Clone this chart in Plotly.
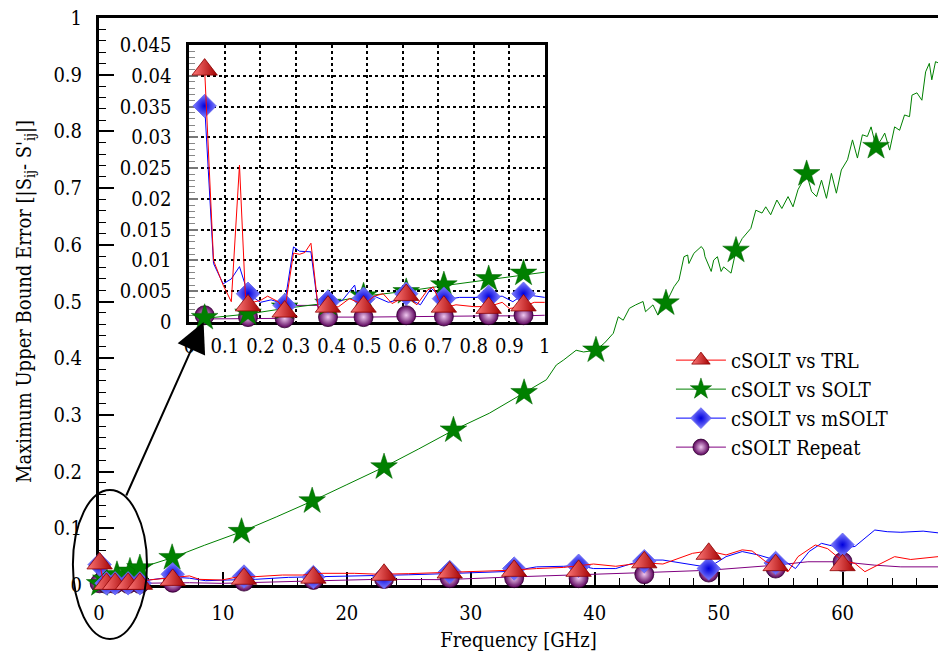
import plotly.graph_objects as go

# ---------------- broadband sweep (GHz) ----------------
trl_f = [0.05, 0.3, 0.6, 1.5, 3.0, 4.1, 4.8, 5.9, 7.3, 8.1, 9.9, 11.3, 12.6, 14.8, 16.4, 18.0,
         20.6, 22.5, 25.0, 27.9, 30.5, 33.2, 35.3, 37.5, 39.9, 41.7, 43.9, 45.5, 47.9, 49.2,
         50.6, 51.9, 52.7, 53.8, 54.6, 55.6, 56.4, 57.8, 58.8, 59.9, 61.0, 61.8, 63.1, 64.2,
         65.5, 67.7]
trl_e = [0.040, 0.010, 0.004, 0.004, 0.005, 0.009, 0.011, 0.013, 0.016, 0.010, 0.0088, 0.0147,
         0.0147, 0.0176, 0.0176, 0.0206, 0.0206, 0.019, 0.020, 0.0218, 0.024, 0.026, 0.029,
         0.031, 0.037, 0.033, 0.0393, 0.037, 0.0559, 0.060, 0.053, 0.062, 0.060, 0.0411, 0.035,
         0.0235, 0.050, 0.0706, 0.064, 0.044, 0.038, 0.0235, 0.038, 0.050, 0.045, 0.050]

msolt_f = [0.05, 0.3, 0.6, 1.5, 3.0, 4.1, 5.0, 5.9, 7.3, 8.6, 10.4, 12.6, 15.3, 18.0, 22.5,
           25.0, 28.0, 33.2, 35.3, 37.5, 38.6, 39.9, 41.7, 43.9, 45.5, 47.9, 49.2, 50.6, 51.9,
           53.2, 54.6, 55.4, 56.2, 57.3, 58.3, 59.9, 61.0, 62.6, 63.6, 64.7, 66.5, 67.7]
msolt_e = [0.036, 0.010, 0.004, 0.005, 0.006, 0.009, 0.012, 0.014, 0.012, 0.0076, 0.0088, 0.010,
           0.0135, 0.0147, 0.016, 0.018, 0.020, 0.024, 0.032, 0.033, 0.035, 0.029, 0.029, 0.044,
           0.044, 0.035, 0.031, 0.050, 0.059, 0.053, 0.044, 0.041, 0.029, 0.059, 0.0735, 0.065,
           0.068, 0.097, 0.094, 0.093, 0.095, 0.092]

solt_f = [0.05, 0.55, 1.45, 2.5, 3.3, 5.9, 8.5, 11.5, 14.3, 17.2, 20.0, 23.0, 25.8, 28.6, 31.5,
          33.0, 34.3, 35.2, 36.1, 36.9, 37.5, 38.5, 39.1, 40.1, 40.8, 41.5, 41.9, 42.3, 42.8,
          43.3, 43.9, 44.1, 44.7, 45.1, 45.75, 46.4, 46.8, 47.2, 47.5, 47.6, 48.0, 48.6, 48.8,
          48.9, 49.4, 49.6, 49.9, 50.2, 50.4, 51.0, 51.4, 51.9, 52.6, 53.0, 53.5, 53.8, 54.2,
          54.7, 55.1, 55.6, 56.0, 56.4, 57.1, 57.5, 57.9, 58.3, 58.7, 59.1, 59.5, 59.9, 60.4,
          60.8, 61.2, 61.6, 62.0, 62.3, 62.7, 63.1, 63.4, 63.8, 64.2, 64.6, 65.0, 65.4, 65.6,
          66.0, 66.4, 66.7, 67.0, 67.2, 67.5, 67.7]
solt_e = [0.002, 0.010, 0.018, 0.024, 0.030, 0.048, 0.070, 0.094, 0.120, 0.148, 0.177, 0.208,
          0.240, 0.273, 0.303, 0.322, 0.339, 0.350, 0.362, 0.388, 0.397, 0.414, 0.411, 0.414,
          0.427, 0.444, 0.473, 0.467, 0.488, 0.494, 0.500, 0.482, 0.494, 0.476, 0.497, 0.526,
          0.538, 0.579, 0.582, 0.567, 0.585, 0.597, 0.591, 0.579, 0.553, 0.573, 0.579, 0.553,
          0.561, 0.550, 0.590, 0.611, 0.629, 0.661, 0.656, 0.667, 0.653, 0.679, 0.664, 0.685,
          0.667, 0.697, 0.725, 0.694, 0.685, 0.714, 0.682, 0.726, 0.691, 0.732, 0.750, 0.785,
          0.753, 0.794, 0.791, 0.808, 0.773, 0.785, 0.797, 0.767, 0.808, 0.802, 0.829, 0.826,
          0.864, 0.868, 0.855, 0.905, 0.920, 0.891, 0.923, 0.921]

repeat_f = [0.05, 1.0, 3.0, 5.0, 7.3, 9.9, 12.6, 18.0, 22.5, 27.9, 33.2, 38.6, 43.9, 49.2, 54.6,
            57.2, 59.9, 62.6, 64.7, 67.7]
repeat_e = [0.003, 0.002, 0.003, 0.004, 0.004, 0.0029, 0.0041, 0.0076, 0.010, 0.0094, 0.0141,
            0.0176, 0.0218, 0.026, 0.035, 0.041, 0.041, 0.035, 0.032, 0.032]

# marker samples on the broadband sweep
mark_f = [0.05, 0.6, 1.3, 2.35, 3.3, 5.95, 11.7, 17.3, 23.0, 28.3, 33.5, 38.7, 44.0, 49.2, 54.6, 60.0]
trl_mark_e = [0.038, 0.002, 0.002, 0.002, 0.002, 0.009, 0.011, 0.013, 0.018, 0.022, 0.025, 0.025,
              0.040, 0.055, 0.035, 0.035]
msolt_mark_e = [0.036, 0.003, 0.003, 0.003, 0.003, 0.019, 0.015, 0.014, 0.014, 0.023, 0.029, 0.034,
                0.042, 0.029, 0.039, 0.071]
repeat_mark_e = [0.003, 0.002, 0.002, 0.002, 0.002, 0.004, 0.006, 0.009, 0.0106, 0.012, 0.012,
                 0.012, 0.019, 0.022, 0.029, 0.041]
solt_mark_f = [0.05, 0.55, 1.45, 2.5, 3.3, 5.9, 11.5, 17.2, 23.0, 28.6, 34.3, 40.1, 45.75, 51.4,
               57.1, 62.7]
solt_mark_e = [0.002, 0.010, 0.018, 0.024, 0.030, 0.048, 0.094, 0.148, 0.208, 0.273, 0.339, 0.414,
               0.497, 0.590, 0.725, 0.773]

# ---------------- low-frequency detail (GHz) ----------------
lf_trl_f = [0.043, 0.068, 0.095, 0.118, 0.141, 0.158, 0.17, 0.2, 0.22, 0.25, 0.268, 0.293, 0.31,
            0.325, 0.342, 0.363, 0.39, 0.42, 0.45, 0.49, 0.52, 0.545, 0.57, 0.61, 0.64, 0.67,
            0.686, 0.7, 0.716, 0.75, 0.8, 0.842, 0.88, 0.9, 0.94, 0.97, 1.0]
lf_trl_e = [0.041, 0.010, 0.006, 0.0033, 0.0255, 0.0038, 0.0031, 0.0035, 0.0042, 0.0033, 0.0018,
            0.0112, 0.011, 0.0113, 0.0128, 0.002, 0.0022, 0.0025, 0.0038, 0.0028, 0.0042, 0.0046,
            0.003, 0.0042, 0.0028, 0.0052, 0.0057, 0.0038, 0.0023, 0.0028, 0.0025, 0.0025, 0.0032,
            0.0022, 0.0025, 0.0032, 0.0032]
lf_msolt_f = [0.043, 0.068, 0.095, 0.118, 0.141, 0.165, 0.2, 0.23, 0.268, 0.293, 0.31, 0.342,
              0.363, 0.39, 0.43, 0.465, 0.475, 0.49, 0.52, 0.56, 0.61, 0.65, 0.68, 0.716, 0.76,
              0.842, 0.88, 0.91, 0.94, 1.0]
lf_msolt_e = [0.0352, 0.0095, 0.0062, 0.007, 0.009, 0.0046, 0.0032, 0.0036, 0.0029, 0.0122, 0.0115,
              0.0114, 0.002, 0.0028, 0.0035, 0.006, 0.0032, 0.0035, 0.0042, 0.0032, 0.004, 0.0028,
              0.0055, 0.0036, 0.004, 0.004, 0.0042, 0.0033, 0.0045, 0.004]
lf_solt_f = [0.043, 0.1, 0.165, 0.268, 0.39, 0.49, 0.61, 0.716, 0.842, 0.94, 1.0]
lf_solt_e = [0.0006, 0.0009, 0.0013, 0.0022, 0.0031, 0.0042, 0.005, 0.0059, 0.0069, 0.0077, 0.0081]
lf_repeat_f = [0.043, 0.1, 0.165, 0.268, 0.28, 0.3, 0.36, 0.38, 0.49, 0.61, 0.716, 0.842, 0.94, 1.0]
lf_repeat_e = [0.0005, 0.0005, 0.0006, 0.0006, 0.0025, 0.0027, 0.0027, 0.0008, 0.0008, 0.0009,
               0.0009, 0.001, 0.001, 0.0011]

lf_mark_f = [0.043, 0.165, 0.268, 0.39, 0.49, 0.61, 0.716, 0.842, 0.94]
lf_trl_mark_e = [0.041, 0.0027, 0.0017, 0.0025, 0.0025, 0.0044, 0.0025, 0.0023, 0.0027]
lf_msolt_mark_e = [0.0351, 0.0046, 0.0027, 0.0033, 0.0038, 0.0046, 0.0038, 0.0041, 0.0046]
lf_solt_mark_e = [0.0007, 0.0014, 0.0024, 0.003, 0.0042, 0.0049, 0.006, 0.007, 0.0079]
lf_repeat_mark_e = [0.0011, 0.0008, 0.0006, 0.0008, 0.0008, 0.0011, 0.0009, 0.0011, 0.0011]

series_names = ["cSOLT vs TRL", "cSOLT vs SOLT", "cSOLT vs mSOLT", "cSOLT Repeat"]

FONT = "DejaVu Serif Condensed, DejaVu Serif"

STYLE = {
    "trl": dict(line="#ff0000",
                marker=dict(symbol="triangle-up", size=22, color="#ff7a7a",
                            gradient=dict(type="horizontal", color="#a30000"),
                            line=dict(color="#8b0000", width=0.8))),
    "solt": dict(line="#008000",
                 marker=dict(symbol="star", size=20, color="#008000",
                             line=dict(color="#006000", width=0.5))),
    "msolt": dict(line="#0000ff",
                  marker=dict(symbol="diamond", size=18, color="#8080ff",
                              gradient=dict(type="radial", color="#0000dd"),
                              line=dict(color="#6060ee", width=0.8))),
    "repeat": dict(line="#800080",
                   marker=dict(symbol="circle", size=19, color="#5a005a",
                               gradient=dict(type="radial", color="#f0c8f0"),
                               line=dict(color="#300030", width=0.8))),
}

fig = go.Figure()

broadband = {
    "repeat": (repeat_f, repeat_e, mark_f, repeat_mark_e),
    "solt": (solt_f, solt_e, solt_mark_f, solt_mark_e),
    "msolt": (msolt_f, msolt_e, mark_f, msolt_mark_e),
    "trl": (trl_f, trl_e, mark_f, trl_mark_e),
}
detail = {
    "repeat": (lf_repeat_f, lf_repeat_e, lf_mark_f, lf_repeat_mark_e),
    "solt": (lf_solt_f, lf_solt_e, lf_mark_f, lf_solt_mark_e),
    "msolt": (lf_msolt_f, lf_msolt_e, lf_mark_f, lf_msolt_mark_e),
    "trl": (lf_trl_f, lf_trl_e, lf_mark_f, lf_trl_mark_e),
}

for data, xa, ya in ((broadband, "x", "y"), (detail, "x2", "y2")):
    for key, (f, e, mf, me) in data.items():
        st = STYLE[key]
        fig.add_trace(go.Scatter(x=f, y=e, mode="lines", xaxis=xa, yaxis=ya,
                                 line=dict(color=st["line"], width=1), showlegend=False,
                                 hoverinfo="skip"))
        fig.add_trace(go.Scatter(x=mf, y=me, mode="markers", xaxis=xa, yaxis=ya,
                                 marker=st["marker"], cliponaxis=False, showlegend=False))

# legend entries
for key, name in zip(["trl", "solt", "msolt", "repeat"], series_names):
    st = STYLE[key]
    fig.add_trace(go.Scatter(x=[None], y=[None], mode="lines+markers", name=name,
                             legendgroup=key,
                             line=dict(color=st["line"], width=1), marker=st["marker"]))

tick_font = dict(family=FONT, size=20, color="black")

fig.update_layout(
    width=944, height=658,
    margin=dict(l=99, r=0, t=18, b=73),
    paper_bgcolor="white", plot_bgcolor="white",
    font=dict(family=FONT, size=20, color="black"),
    showlegend=True,
    legend=dict(x=0.6817, y=0.431, xanchor="left", yanchor="top",
                bgcolor="rgba(0,0,0,0)", font=dict(family=FONT, size=20),
                itemwidth=50, itemsizing="trace", tracegroupgap=0),
    xaxis=dict(domain=[0, 1], range=[0, 67.7], dtick=10, tick0=0,
               showline=True, linecolor="black", linewidth=3, mirror=True,
               ticks="inside", ticklen=13, tickwidth=1.5, tickcolor="black",
               minor=dict(dtick=2, ticks="inside", ticklen=7, tickwidth=1.2, tickcolor="black"),
               showgrid=False, zeroline=False, tickfont=tick_font, ticklabelstandoff=8,
               layer="below traces",
               title=dict(text="Frequency [GHz]", font=dict(family=FONT, size=20),
                          standoff=9)),
    yaxis=dict(domain=[0, 1], range=[0, 1], dtick=0.1, tick0=0,
               showline=True, linecolor="black", linewidth=3, mirror=False,
               ticks="inside", ticklen=15, tickwidth=1.5, tickcolor="black",
               minor=dict(dtick=0.02, ticks="inside", ticklen=7, tickwidth=1.2, tickcolor="black"),
               showgrid=False, zeroline=False, tickfont=tick_font, ticklabelstandoff=10,
               layer="below traces",
               title=dict(text="Maximum Upper Bound Error [|S<sub>ij</sub>- S'<sub>ij</sub>|]",
                          font=dict(family=FONT, size=20), standoff=17)),
    xaxis2=dict(domain=[0.1077, 0.5314], anchor="y2", range=[0, 1], dtick=0.1, tick0=0,
                showline=True, linecolor="black", linewidth=3, mirror=True,
                showgrid=True, gridcolor="black", gridwidth=2, griddash="dot",
                ticks="", zeroline=False, tickfont=tick_font, ticklabelstandoff=4,
                layer="below traces"),
    yaxis2=dict(domain=[0.4638, 0.9524], anchor="x2", range=[0, 0.045], dtick=0.005, tick0=0,
                showline=True, linecolor="black", linewidth=3, mirror=True,
                showgrid=True, gridcolor="black", gridwidth=2, griddash="dot",
                ticks="inside", ticklen=9, tickwidth=1.5, tickcolor="#777777",
                minor=dict(dtick=0.001, ticks="inside", ticklen=6, tickwidth=1.2,
                           tickcolor="#888888", showgrid=False),
                zeroline=False, tickfont=tick_font, ticklabelstandoff=11,
                layer="below traces"),
)

# white backing for the inset panel
fig.add_shape(type="rect", xref="x2 domain", yref="y2 domain", x0=0, x1=1, y0=0, y1=1,
              fillcolor="white", line=dict(width=0), layer="below")

# ellipse around the low-frequency region
fig.add_shape(type="circle", xref="paper", yref="paper",
              x0=-0.0311, x1=0.0572, y0=-0.0952, y1=0.1675,
              line=dict(color="black", width=2))

# arrow pointing from the ellipse to the inset
fig.add_annotation(x=0.04, y=0.0, xref="x2", yref="y2", text="", showarrow=True,
                   ax=-78, ay=175, arrowhead=2, arrowsize=3, arrowwidth=2,
                   arrowcolor="black", standoff=0)

fig.write_html("out.html")
